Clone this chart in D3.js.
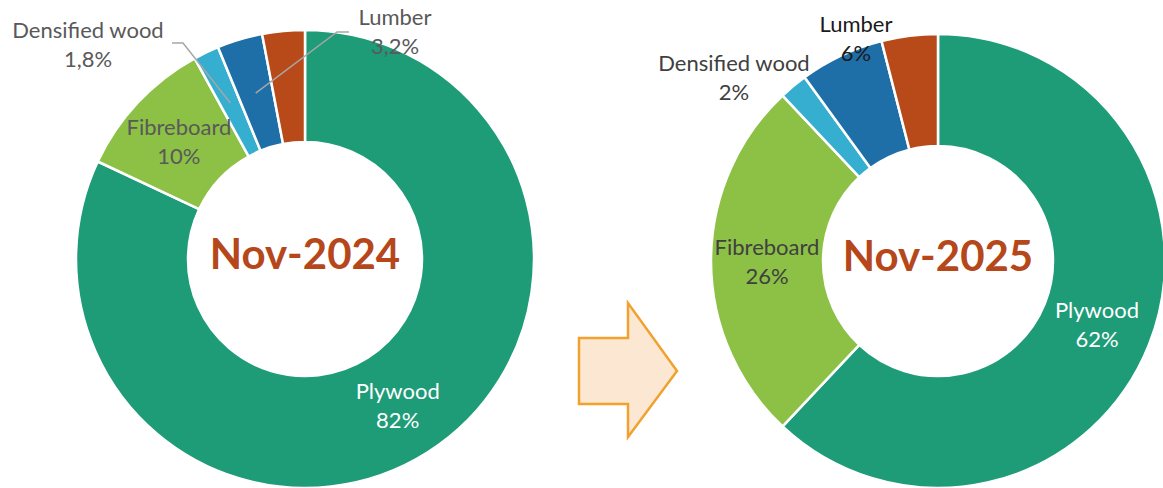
<!DOCTYPE html>
<html>
<head>
<meta charset="utf-8">
<script src="https://cdn.jsdelivr.net/npm/d3@7"></script>
<style>
  html, body { margin: 0; padding: 0; background: #fff; }
  svg { display: block; font-family: Lato, "Open Sans", sans-serif; }
</style>
</head>
<body>
<svg id="chart"></svg>
<script>
// Shares of wood products (percent), slices go clockwise from 12 o'clock
const categories = ["Plywood", "Fibreboard", "Densified wood", "Lumber", "Other"];
const nov2024 = [82, 10, 1.8, 3.2, 3];
const nov2025 = [62, 26, 2, 6, 4];
const periods = ["Nov-2024", "Nov-2025"];

const width = 1163, height = 488;
const colors = ["#1e9b77", "#8cc146", "#36aed0", "#1e6ea8", "#b84a19"];

const svg = d3.select("#chart")
  .attr("width", width)
  .attr("height", height);

// layout of the two donuts
const charts = [
  {
    values: nov2024, title: periods[0], cx: 305, cy: 259, outer: 229, inner: 117,
    // label placement: "in" = on the slice centroid, otherwise outside with offset
    labels: {
      "Plywood": { pos: "in", fill: "#fff" },
      "Fibreboard": { pos: "in", fill: "#595959" },
      "Densified wood": { pos: "out", x: 88, y: 38, fill: "#595959", leader: [[172, 43], [183, 43]] },
      "Lumber": { pos: "out", x: 395, y: 25, fill: "#595959", leader: [[349, 32], [337, 32]] }
    }
  },
  {
    values: nov2025, title: periods[1], cx: 938, cy: 261, outer: 227, inner: 115,
    labels: {
      "Plywood": { pos: "in", fill: "#fff" },
      "Fibreboard": { pos: "in", fill: "#404040" },
      "Densified wood": { pos: "out", x: 734, y: 71, fill: "#404040" },
      "Lumber": { pos: "out", x: 856, y: 32, fill: "#1a1a1a" }
    }
  }
];

const pie = d3.pie().sort(null).value(d => d);
const fmt = v => String(v).replace(".", ",") + "%";
const lineGap = 29;

charts.forEach(c => {
  const g = svg.append("g").attr("transform", `translate(${c.cx},${c.cy})`);
  const arc = d3.arc().innerRadius(c.inner).outerRadius(c.outer);
  const arcs = pie(c.values);

  g.selectAll("path.slice")
    .data(arcs)
    .enter()
    .append("path")
    .attr("class", "slice")
    .attr("d", arc)
    .attr("fill", (d, i) => colors[i])
    .attr("stroke", "#fff")
    .attr("stroke-width", 2.5)
    .attr("stroke-linejoin", "round");

  // centre title
  g.append("text")
    .attr("x", 0)
    .attr("y", 10)
    .attr("text-anchor", "middle")
    .style("font-size", "42px")
    .style("font-weight", "bold")
    .attr("fill", "#b5471b")
    .text(c.title);

  arcs.forEach((d, i) => {
    const name = categories[i];
    const lab = c.labels[name];
    if (!lab) return;
    const cen = arc.centroid(d);
    let x, y;
    if (lab.pos === "in") {
      x = c.cx + cen[0];
      y = c.cy + cen[1] - 6;
    } else {
      x = lab.x;
      y = lab.y;
      if (lab.leader) {
        const pts = lab.leader.concat([[c.cx + cen[0], c.cy + cen[1]]]);
        svg.append("path")
          .attr("d", d3.line()(pts))
          .attr("fill", "none")
          .attr("stroke", "#a6a6a6")
          .attr("stroke-width", 1.5);
      }
    }
    const t = svg.append("text")
      .attr("text-anchor", "middle")
      .attr("fill", lab.fill)
      .style("font-size", "22px");
    t.append("tspan").attr("x", x).attr("y", y).text(name);
    t.append("tspan").attr("x", x).attr("y", y + lineGap).text(fmt(c.values[i]));
  });
});

// block arrow between the two donuts
const arrow = [[579, 338], [628, 338], [628, 303], [677, 371], [628, 437], [628, 404], [579, 404]];
svg.append("path")
  .attr("d", d3.line()(arrow) + "Z")
  .attr("fill", "#fce8d2")
  .attr("stroke", "#f0a12e")
  .attr("stroke-width", 2.5)
  .attr("stroke-linejoin", "miter");
</script>
</body>
</html>
